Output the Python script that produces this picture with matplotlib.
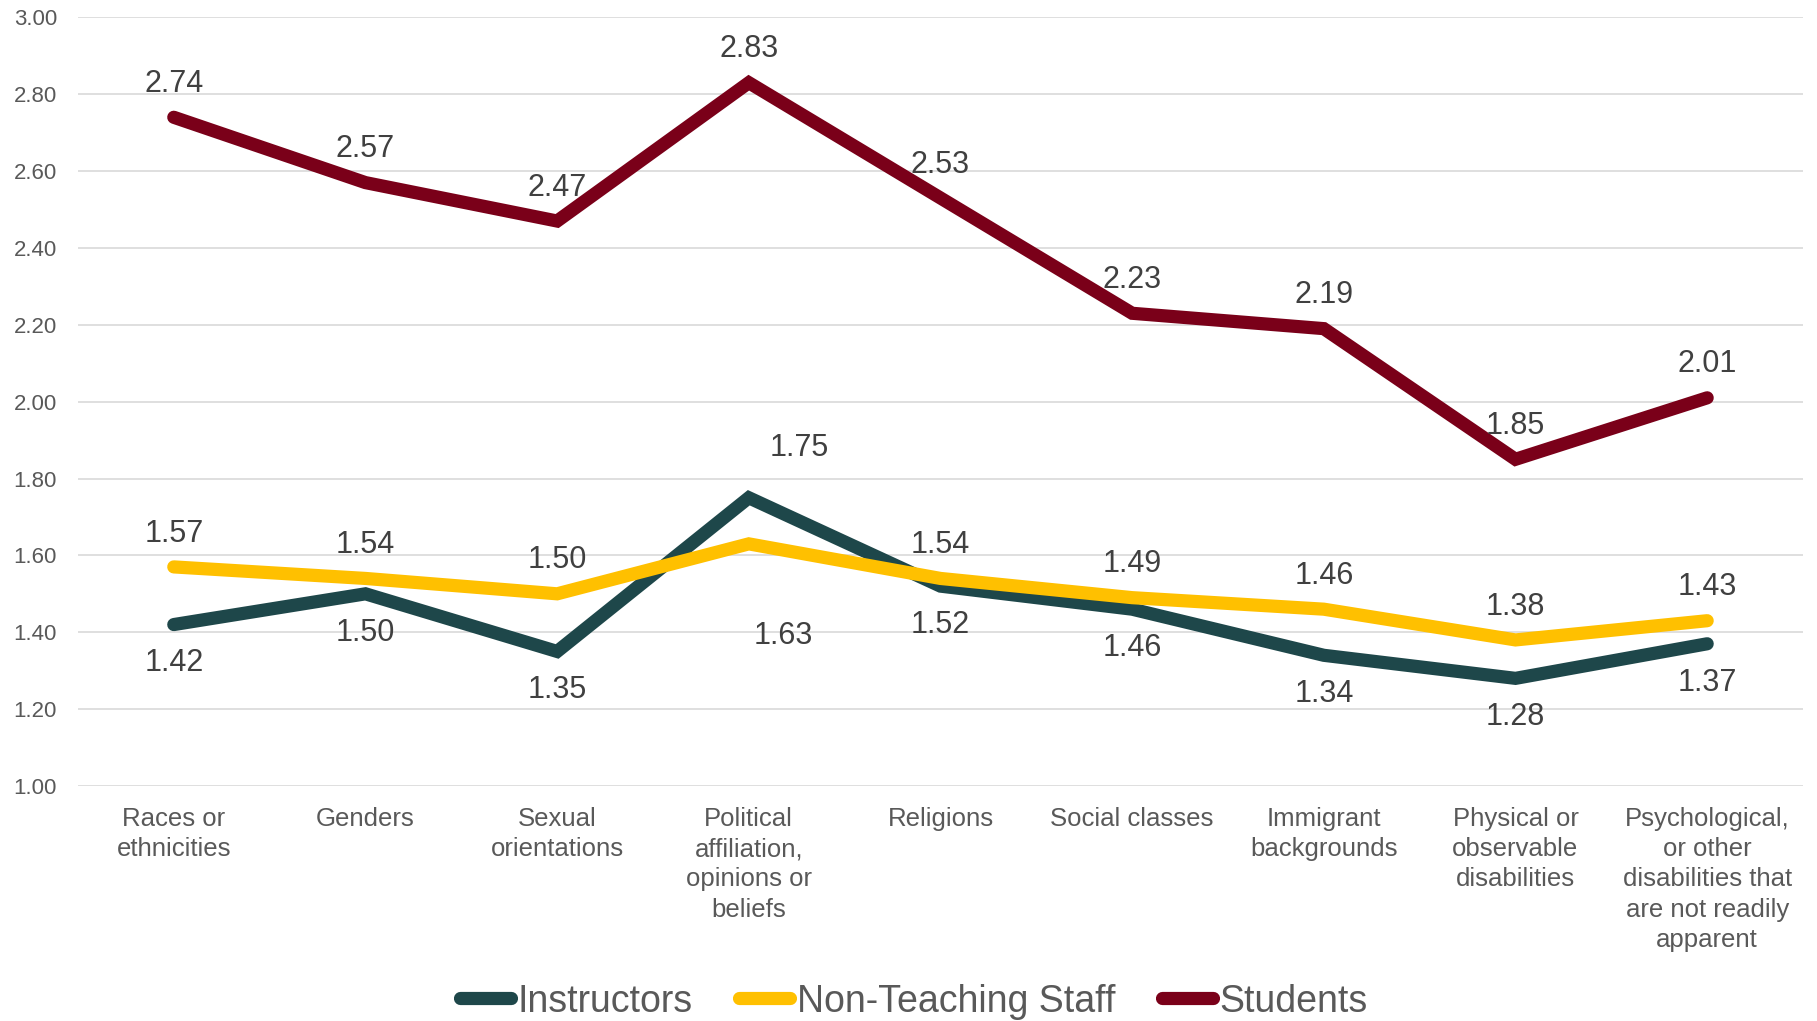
import numpy as np
import matplotlib.pyplot as plt

plt.rcParams['font.family'] = ['Liberation Sans', 'DejaVu Sans']

categories = ["Races or\nethnicities", "Genders", "Sexual\norientations",
              "Political\naffiliation,\nopinions or\nbeliefs", "Religions",
              "Social classes", "Immigrant\nbackgrounds",
              "Physical or\nobservable\ndisabilities",
              "Psychological,\nor other\ndisabilities that\nare not readily\napparent"]

instructors = [1.42, 1.50, 1.35, 1.75, 1.52, 1.46, 1.34, 1.28, 1.37]
staff = [1.57, 1.54, 1.50, 1.63, 1.54, 1.49, 1.46, 1.38, 1.43]
students = [2.74, 2.57, 2.47, 2.83, 2.53, 2.23, 2.19, 1.85, 2.01]

series = [("Instructors", instructors, "#1E474A", -28),
          ("Non-Teaching Staff", staff, "#FFC000", 24),
          ("Students", students, "#7A0019", 24)]

# labels that Excel moved away from the default spot (series, index): (dx, dy) in points
label_moves = {("Instructors", 3): (36, 36), ("Non-Teaching Staff", 3): (25, -66)}

fig = plt.figure(figsize=(18.17, 10.21), dpi=100)
ax = fig.add_axes([0.0429, 0.2302, 0.9494, 0.7528])

x = np.arange(len(categories))
for name, vals, col, dy in series:
    ax.plot(x, vals, color=col, lw=9.5, solid_capstyle='round',
            solid_joinstyle='miter', label=name, zorder=3)
    for i, v in enumerate(vals):
        off = label_moves.get((name, i), (0, dy))
        ax.annotate(f"{v:.2f}", (i, v), xytext=off, textcoords='offset points',
                    ha='center', va='center', fontsize=22, color='#404040', zorder=4)

ax.set_xlim(-0.5, len(categories) - 0.5)
ax.set_ylim(1.0, 3.0)
ax.set_yticks(np.arange(1.0, 3.01, 0.2))
ax.set_yticklabels([f"{t:.2f}" for t in np.arange(1.0, 3.01, 0.2)])
ax.set_xticks(x)
ax.set_xticklabels(categories, fontsize=18.5, color='#595959', linespacing=1.33, va='top')
ax.tick_params(axis='y', labelsize=16, labelcolor='#595959', length=0, pad=15)
ax.tick_params(axis='x', length=0, pad=15)
ax.grid(axis='y', color='#D9D9D9', lw=1.2, zorder=0)
ax.set_axisbelow(True)
for s in ax.spines.values():
    s.set_visible(False)

fig.legend(loc='center', bbox_to_anchor=(0.503, 0.019), ncol=3, frameon=False,
           fontsize=27, labelcolor='#595959', handlelength=1.35,
           handletextpad=0.18, columnspacing=1.25)

fig.savefig("out.png", dpi=100)
